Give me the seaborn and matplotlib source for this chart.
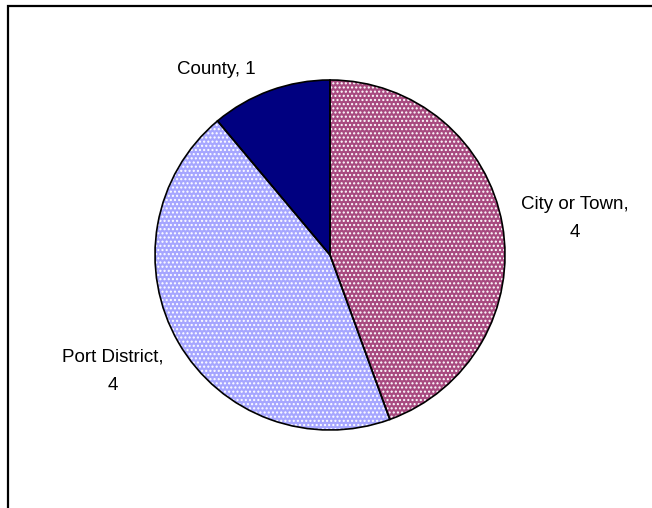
import matplotlib
matplotlib.use('Agg')
import matplotlib.pyplot as plt
import matplotlib.patches as mpatches
import seaborn as sns

# Data
categories = ['City or Town', 'Port District', 'County']
counts = [4, 4, 1]
colors = ['#a84a80', '#a6a6ff', '#000080']
hatches = ['....', '....', '']

# Label placement (data units, pie radius = 1)
label_pos = [(1.40, 0.21), (-1.24, -0.665), (-0.65, 1.06)]

sns.set_theme(style='white')
plt.rcParams['font.family'] = ['Liberation Sans', 'DejaVu Sans']
plt.rcParams['hatch.linewidth'] = 1.0

fig = plt.figure(figsize=(6.52, 5.08), dpi=100)

# Outer frame (only top and left edges visible)
frame = mpatches.Rectangle((7.5 / 652, -0.1), 1.2, (508 - 6.5) / 508 + 0.1,
                           transform=fig.transFigure, fill=False,
                           edgecolor='black', linewidth=1.6)
fig.add_artist(frame)

ax = fig.add_axes([(330 - 175) / 652, (508 - 255 - 175) / 508, 350 / 652, 350 / 508])

# filled wedges with white dot hatching
wedges, _ = ax.pie(counts, colors=colors, startangle=90, counterclock=False,
                   radius=1, wedgeprops=dict(edgecolor='white', linewidth=0))
for w, h in zip(wedges, hatches):
    w.set_hatch(h)

# black outlines on top
ax.pie(counts, colors=['none'] * len(counts), startangle=90, counterclock=False,
       radius=1, wedgeprops=dict(edgecolor='black', linewidth=1.2, fill=False))

ax.set_xlim(-1, 1)
ax.set_ylim(-1, 1)
ax.set_aspect('equal')
ax.axis('off')

for cat, n, (x, y) in zip(categories, counts, label_pos):
    if cat == 'County':
        txt = f'{cat}, {n}'
    else:
        txt = f'{cat},\n{n}'
    ax.text(x, y, txt, ha='center', va='center', fontsize=13.5,
            color='black', linespacing=1.85, clip_on=False)

fig.savefig('out.png', dpi=100)
